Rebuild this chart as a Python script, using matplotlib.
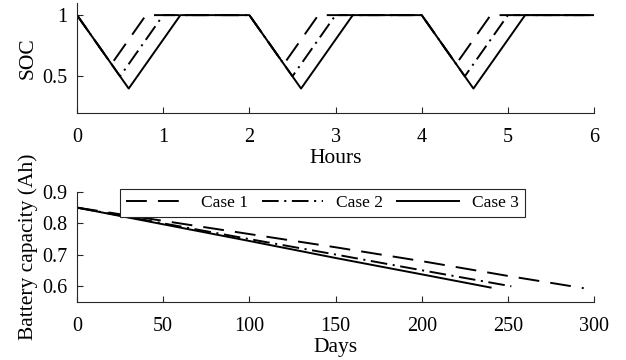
import matplotlib
matplotlib.use("Agg")
import matplotlib.pyplot as plt

# SOC over one test (hours)
t_case1 = [0, 0.4, 0.8, 2, 2.4, 2.8, 4, 4.4, 4.8, 6]
t_case2 = [0, 0.5, 1.0, 2, 2.5, 3.0, 4, 4.5, 5.0, 6]
t_case3 = [0, 0.6, 1.2, 2, 2.6, 3.2, 4, 4.6, 5.2, 6]
soc_case1 = [1, 0.6, 1, 1, 0.6, 1, 1, 0.6, 1, 1]
soc_case2 = [1, 0.5, 1, 1, 0.5, 1, 1, 0.5, 1, 1]
soc_case3 = [1, 0.4, 1, 1, 0.4, 1, 1, 0.4, 1, 1]

# capacity fade (days)
days_case1 = [0, 50, 100, 150, 200, 250, 294]
cap_case1 = [0.85, 0.808, 0.766, 0.724, 0.680, 0.633, 0.594]
days_case2 = [0, 50, 100, 150, 200, 252]
cap_case2 = [0.85, 0.800, 0.750, 0.701, 0.651, 0.600]
days_case3 = [0, 50, 100, 150, 200, 240]
cap_case3 = [0.85, 0.797, 0.744, 0.690, 0.638, 0.596]

labels = ["Case 1", "Case 2", "Case 3"]

plt.rcParams["font.family"] = ["Liberation Serif", "DejaVu Serif"]
plt.rcParams["font.size"] = 14.5
plt.rcParams["lines.scale_dashes"] = False

axcol = "#262626"
lw = 1.4
lab_fs = 15.5
styles = [dict(dashes=(15, 8)), dict(dashes=(12, 4, 1.5, 4)), dict(linestyle="-")]

fig = plt.figure(figsize=(6.26, 3.6), dpi=100)
ax1 = fig.add_axes([0.123, 0.686, 0.826, 0.306])
ax2 = fig.add_axes([0.123, 0.161, 0.826, 0.306])

for t, s, st in zip([t_case1, t_case2, t_case3], [soc_case1, soc_case2, soc_case3], styles):
    ax1.plot(t, s, color="black", lw=lw, **st)

for d, c, st, lab in zip([days_case1, days_case2, days_case3], [cap_case1, cap_case2, cap_case3], styles, labels):
    ax2.plot(d, c, color="black", lw=lw, label=lab, **st)

ax1.set_xlim(0, 6)
ax1.set_ylim(0.2, 1.1)
ax1.set_xticks(range(0, 7))
ax1.set_yticks([0.5, 1])
ax1.set_yticklabels(["0.5", "1"])
ax1.set_xlabel("Hours", labelpad=1, fontsize=lab_fs)
ax1.set_ylabel("SOC", labelpad=3, fontsize=lab_fs)

ax2.set_xlim(0, 300)
ax2.set_ylim(0.55, 0.9)
ax2.set_xticks(range(0, 301, 50))
ax2.set_yticks([0.6, 0.7, 0.8, 0.9])
ax2.set_xlabel("Days", labelpad=1, fontsize=lab_fs)
ax2.set_ylabel("Battery capacity (Ah)", labelpad=3, fontsize=lab_fs)

for ax in (ax1, ax2):
    ax.spines["top"].set_visible(False)
    ax.spines["right"].set_visible(False)
    for sp in ("left", "bottom"):
        ax.spines[sp].set_color(axcol)
        ax.spines[sp].set_linewidth(0.8)
    ax.tick_params(direction="in", length=4, width=0.8, color=axcol)
    ax.tick_params(axis="x", pad=11)
    ax.tick_params(axis="y", pad=7)

leg = ax2.legend(loc="upper left", bbox_to_anchor=(0.083, 1.027), ncol=3,
                 handlelength=3.55, handletextpad=0.75, columnspacing=0.8,
                 borderpad=0.35, borderaxespad=0, fancybox=False,
                 framealpha=1, fontsize=12.5)
leg.get_frame().set_edgecolor(axcol)
leg.get_frame().set_linewidth(0.8)

fig.savefig("out.png", dpi=100)
